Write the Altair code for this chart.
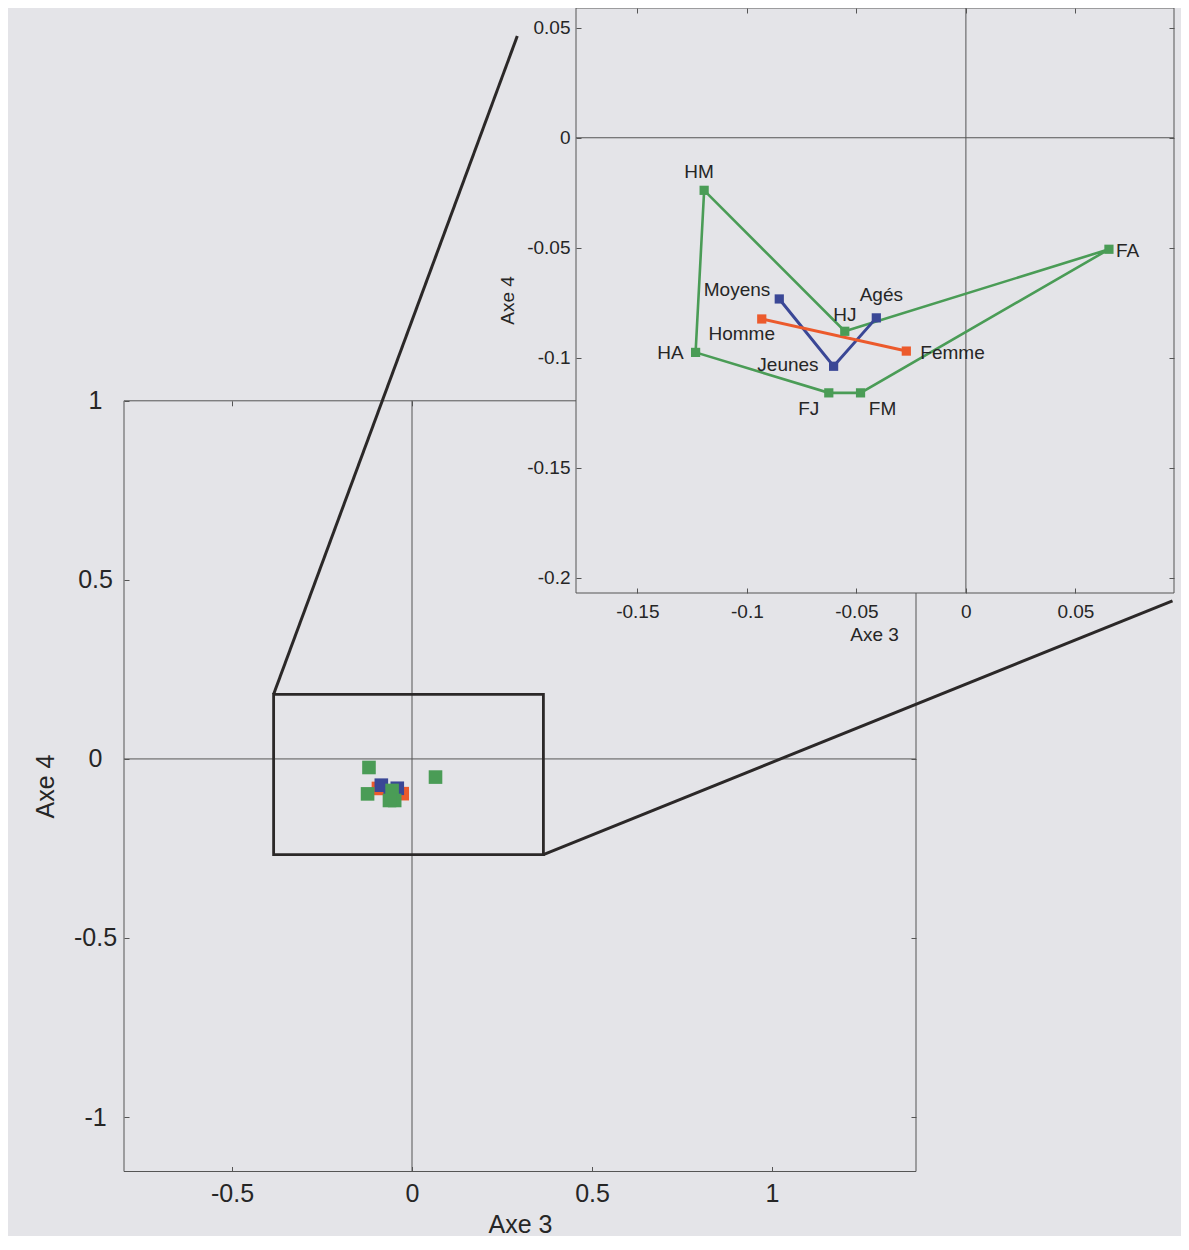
import altair as alt
import pandas as pd

# ------------------------------------------------------------------ data
grp_labels = ["HM", "HJ", "FA", "FM", "FJ", "HA"]          # polygon order
grp_x = [-0.1195, -0.0553, 0.0653, -0.0481, -0.0626, -0.1234]
grp_y = [-0.0239, -0.0880, -0.0507, -0.1160, -0.1160, -0.0976]

age_labels = ["Moyens", "Jeunes", "Agés"]
age_x = [-0.0852, -0.0604, -0.0409]
age_y = [-0.0733, -0.1039, -0.0819]

sex_labels = ["Homme", "Femme"]
sex_x = [-0.0932, -0.0272]
sex_y = [-0.0824, -0.0970]

main_xticks = [-0.5, 0, 0.5, 1]
main_yticks = [-1, -0.5, 0, 0.5, 1]
inset_xticks = [-0.15, -0.1, -0.05, 0, 0.05]
inset_yticks = [-0.2, -0.15, -0.1, -0.05, 0, 0.05]

main_xdom = [-0.8, 1.4]
main_ydom = [-1.152, 1.0]
inset_xdom = [-0.178, 0.095]
inset_ydom = [-0.207, 0.059]

zoom_x = [-0.3844, 0.365]
zoom_y = [-0.267, 0.1804]
conn_from_x = [-0.3844, 0.365]
conn_from_y = [0.1804, -0.267]
conn_to_x = [0.2925, 2.1125]
conn_to_y = [2.0185, 0.4415]

# ------------------------------------------------------------------ layout / style
W, H = 1173, 1228
MAIN_XR = [116, 908]
MAIN_YR = [1163.5, 392.8]
INS_XR = [568, 1166]
INS_YR = [585, 0]

BG = "#e4e4e8"
FRAME = "#555555"
TXT = "#262626"
GREEN = "#4a9c56"
BLUE = "#3a4796"
ORANGE = "#ec5a2c"
FONT = "Liberation Sans"
MINUS_FIX = "replace(datum.label, '\u2212', '-')"


def xs(field, which, axis=None):
    dom, rng = (main_xdom, MAIN_XR) if which == "main" else (inset_xdom, INS_XR)
    return alt.X(f"{field}:Q", scale=alt.Scale(domain=dom, range=rng, nice=False, zero=False), axis=axis)


def ys(field, which, axis=None):
    dom, rng = (main_ydom, MAIN_YR) if which == "main" else (inset_ydom, INS_YR)
    return alt.Y(f"{field}:Q", scale=alt.Scale(domain=dom, range=rng, nice=False, zero=False), axis=axis)


def tick_axis(orient, offset, values, z):
    return alt.Axis(orient=orient, offset=offset, values=values, labels=False, domain=False,
                    ticks=True, tickSize=5, tickColor=FRAME, tickWidth=1, grid=False,
                    title="", zindex=z)


dummy = pd.DataFrame({"x": [0.0], "y": [0.0]})


def carrier(which, xaxis, yaxis):
    return alt.Chart(dummy).mark_point(opacity=0).encode(
        x=xs("x", which, xaxis), y=ys("y", which, yaxis))


layers = []

# ---------------- main plot axes
main_xlab = alt.Axis(orient="bottom", offset=MAIN_YR[0] - H, values=main_xticks, format="~g",
                     labelExpr=MINUS_FIX, labelFont=FONT, labelFontSize=25, labelColor=TXT,
                     labelPadding=10, labelFlush=False, labelOverlap=False,
                     ticks=False, tickSize=0, domain=False, grid=False,
                     title="Axe 3", titleFont=FONT, titleFontSize=25, titleFontWeight="normal",
                     titleColor=TXT, titleX=512, titleY=52.5, titleBaseline="middle",
                     titleAlign="center", zindex=0)
main_ylab = alt.Axis(orient="left", offset=-MAIN_XR[0], values=main_yticks, format="~g",
                     labelExpr=MINUS_FIX, labelFont=FONT, labelFontSize=25, labelColor=TXT,
                     labelPadding=29, labelAlign="center", labelBaseline="middle",
                     labelFlush=False, labelOverlap=False,
                     ticks=False, tickSize=0, domain=False, grid=False,
                     title="Axe 4", titleFont=FONT, titleFontSize=25, titleFontWeight="normal",
                     titleColor=TXT, titleX=-79, titleY=778, titleAngle=270,
                     titleBaseline="middle", titleAlign="center", zindex=0)
layers.append(carrier("main", main_xlab, main_ylab))
layers.append(carrier("main",
                      tick_axis("top", -MAIN_YR[0], main_xticks, 0),
                      tick_axis("right", MAIN_XR[0] - W, main_yticks, 0)))
layers.append(carrier("main",
                      tick_axis("bottom", MAIN_YR[1] - H, main_xticks, 0),
                      tick_axis("left", -MAIN_XR[1], main_yticks, 0)))

# ---------------- main frame and zero lines
main_box = pd.DataFrame({"x0": [main_xdom[0]], "x1": [main_xdom[1]],
                         "y0": [main_ydom[0]], "y1": [main_ydom[1]]})
layers.append(alt.Chart(main_box).mark_rect(fill="transparent", stroke=FRAME, strokeWidth=1).encode(
    x=xs("x0", "main"), x2=alt.X2("x1"), y=ys("y0", "main"), y2=alt.Y2("y1")))
vz = pd.DataFrame({"x": [0.0], "y0": [main_ydom[0]], "y1": [main_ydom[1]]})
hz = pd.DataFrame({"y": [0.0], "x0": [main_xdom[0]], "x1": [main_xdom[1]]})
layers.append(alt.Chart(vz).mark_rule(color=FRAME, strokeWidth=1).encode(
    x=xs("x", "main"), y=ys("y0", "main"), y2=alt.Y2("y1")))
layers.append(alt.Chart(hz).mark_rule(color=FRAME, strokeWidth=1).encode(
    x=xs("x0", "main"), x2=alt.X2("x1"), y=ys("y", "main")))

# zoom box
zb = pd.DataFrame({"x0": [zoom_x[0]], "x1": [zoom_x[1]], "y0": [zoom_y[0]], "y1": [zoom_y[1]]})
layers.append(alt.Chart(zb).mark_rect(fill="transparent", stroke="#2b2828", strokeWidth=2.8).encode(
    x=xs("x0", "main"), x2=alt.X2("x1"), y=ys("y0", "main"), y2=alt.Y2("y1")))

# main points
sex_df = pd.DataFrame({"label": sex_labels, "x": sex_x, "y": sex_y, "ord": range(len(sex_labels))})
age_df = pd.DataFrame({"label": age_labels, "x": age_x, "y": age_y, "ord": range(len(age_labels))})
grp_df = pd.DataFrame({"label": grp_labels, "x": grp_x, "y": grp_y, "ord": range(len(grp_labels))})
grp_loop = pd.concat([grp_df, grp_df.iloc[[0]].assign(ord=len(grp_labels))], ignore_index=True)

for df, col in [(sex_df, ORANGE), (age_df, BLUE), (grp_df, GREEN)]:
    layers.append(alt.Chart(df).mark_point(shape="square", filled=True, size=185, opacity=1,
                                           color=col).encode(
        x=xs("x", "main"), y=ys("y", "main")))

# connectors
conn = pd.DataFrame({"x0": conn_from_x, "y0": conn_from_y, "x1": conn_to_x, "y1": conn_to_y})
layers.append(alt.Chart(conn).mark_rule(color="#2b2828", strokeWidth=3).encode(
    x=xs("x0", "main"), y=ys("y0", "main"), x2=alt.X2("x1"), y2=alt.Y2("y1")))

# ---------------- inset
ins_box = pd.DataFrame({"x0": [inset_xdom[0]], "x1": [inset_xdom[1]],
                        "y0": [inset_ydom[0]], "y1": [inset_ydom[1]]})
layers.append(alt.Chart(ins_box).mark_rect(fill=BG, stroke=FRAME, strokeWidth=1).encode(
    x=xs("x0", "inset"), x2=alt.X2("x1"), y=ys("y0", "inset"), y2=alt.Y2("y1")))
ivz = pd.DataFrame({"x": [0.0], "y0": [inset_ydom[0]], "y1": [inset_ydom[1]]})
ihz = pd.DataFrame({"y": [0.0], "x0": [inset_xdom[0]], "x1": [inset_xdom[1]]})
layers.append(alt.Chart(ivz).mark_rule(color=FRAME, strokeWidth=1).encode(
    x=xs("x", "inset"), y=ys("y0", "inset"), y2=alt.Y2("y1")))
layers.append(alt.Chart(ihz).mark_rule(color=FRAME, strokeWidth=1).encode(
    x=xs("x0", "inset"), x2=alt.X2("x1"), y=ys("y", "inset")))

for df, col, sw in [(grp_loop, GREEN, 2.6), (age_df, BLUE, 3), (sex_df, ORANGE, 3)]:
    layers.append(alt.Chart(df).mark_line(color=col, strokeWidth=sw).encode(
        x=xs("x", "inset"), y=ys("y", "inset"), order=alt.Order("ord:Q")))
for df, col in [(grp_df, GREEN), (age_df, BLUE), (sex_df, ORANGE)]:
    layers.append(alt.Chart(df).mark_point(shape="square", filled=True, size=85, opacity=1,
                                           color=col).encode(
        x=xs("x", "inset"), y=ys("y", "inset")))

# point labels
all_pts = pd.concat([grp_df, age_df, sex_df], ignore_index=True)
label_style = {
    "HM": ("center", -5, -18),
    "HJ": ("center", 0, -16),
    "FA": ("left", 7, 2),
    "FM": ("center", 22, 16),
    "FJ": ("center", -20, 16),
    "HA": ("right", -12, 1),
    "Moyens": ("right", -9, -9),
    "Jeunes": ("right", -15, -1),
    "Agés": ("center", 5, -23),
    "Homme": ("center", -20, 15),
    "Femme": ("left", 14, 2),
}
for name, (al, dx, dy) in label_style.items():
    layers.append(alt.Chart(all_pts).transform_filter(alt.datum.label == name).mark_text(
        font=FONT, fontSize=19, color=TXT, align=al, baseline="middle", dx=dx, dy=dy).encode(
        x=xs("x", "inset"), y=ys("y", "inset"), text="label:N"))

# inset axes (drawn on top of the inset background)
ins_xlab = alt.Axis(orient="bottom", offset=INS_YR[0] - H, values=inset_xticks, format="~g",
                    labelExpr=MINUS_FIX, labelFont=FONT, labelFontSize=19, labelColor=TXT,
                    labelPadding=9, labelFlush=False, labelOverlap=False,
                    ticks=False, tickSize=0, domain=False, grid=False,
                    title="Axe 3", titleFont=FONT, titleFontSize=19, titleFontWeight="normal",
                    titleColor=TXT, titleX=866, titleY=41.4, titleBaseline="middle",
                    titleAlign="center", zindex=1)
ins_ylab = alt.Axis(orient="left", offset=-INS_XR[0], values=inset_yticks, format="~g",
                    labelExpr=MINUS_FIX, labelFont=FONT, labelFontSize=19, labelColor=TXT,
                    labelPadding=6, labelAlign="right", labelBaseline="middle",
                    labelFlush=False, labelOverlap=False,
                    ticks=False, tickSize=0, domain=False, grid=False,
                    title="Axe 4", titleFont=FONT, titleFontSize=19, titleFontWeight="normal",
                    titleColor=TXT, titleX=-69, titleY=292, titleAngle=270,
                    titleBaseline="middle", titleAlign="center", zindex=1)
layers.append(carrier("inset", ins_xlab, ins_ylab))
layers.append(carrier("inset",
                      tick_axis("top", -INS_YR[0], inset_xticks, 1),
                      tick_axis("right", INS_XR[0] - W, inset_yticks, 1)))
layers.append(carrier("inset",
                      tick_axis("bottom", INS_YR[1] - H, inset_xticks, 1),
                      tick_axis("left", -INS_XR[1], inset_yticks, 1)))

chart = alt.layer(*layers).resolve_scale(
    x="independent", y="independent"
).resolve_axis(
    x="independent", y="independent"
).properties(
    width=W, height=H, autosize=alt.AutoSizeParams(type="none"), padding=0, background=BG
).configure_view(strokeWidth=0)

chart.save("out.html", embed_options={"renderer": "svg", "actions": False})
